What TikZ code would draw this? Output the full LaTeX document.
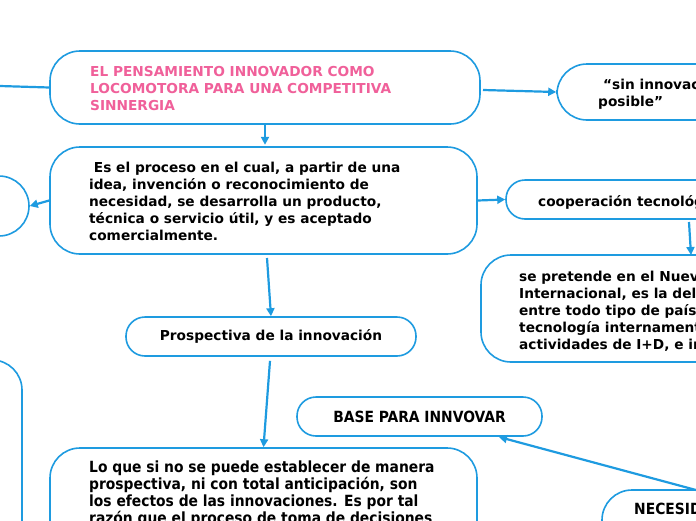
\documentclass[tikz,border=0pt]{standalone}
\usepackage{fontspec}
\setmainfont{DejaVu Sans}
\newfontfamily\condf{DejaVu Sans Condensed}
\usetikzlibrary{arrows.meta}
\definecolor{ln}{HTML}{1E9BE0}
\definecolor{pk}{HTML}{F0609A}
\tikzset{
  box/.style={draw=ln,line width=1.6pt,fill=white,rounded corners=#1,inner sep=0},
  box/.default=30pt,
  txt/.style={anchor=north west,inner sep=0,align=left,font=\fontsize{13.7}{17}\selectfont\bfseries},
  ctxt/.style={txt,font=\fontsize{15.4}{17}\condf\bfseries},
  conn/.style={draw=ln,line width=2.2pt,-{Triangle[length=8pt,width=8pt]}},
  plain/.style={draw=ln,line width=2.2pt}
}
\begin{document}
\begin{tikzpicture}[x=1pt,y=-1pt]
\useasboundingbox (0,0) rectangle (696,520);
\clip (0,0) rectangle (696,520);
% boxes
\node[box] (title) at (265,87.5) [minimum width=430pt,minimum height=73pt] {};
\node[box] (sin) at (657,92) [minimum width=200pt,minimum height=56pt] {};
\node[box] (left1) at (-40,206) [minimum width=138pt,minimum height=60pt] {};
\node[box] (def) at (263.5,200.5) [minimum width=427pt,minimum height=107pt] {};
\node[box=19pt] (coop) at (656,199.5) [minimum width=300pt,minimum height=39pt] {};
\node[box] (pret) at (681,308.5) [minimum width=400pt,minimum height=107pt] {};
\node[box=19pt] (pros) at (271,336.5) [minimum width=290pt,minimum height=39pt] {};
\node[box] (left2) at (-100,500) [minimum width=244pt,minimum height=280pt] {};
\node[box=19pt] (base) at (419.5,416.5) [minimum width=245pt,minimum height=39pt] {};
\node[box] (nec) at (700,530) [minimum width=196pt,minimum height=80pt] {};
\node[box] (lo) at (263.5,520) [minimum width=427pt,minimum height=144pt] {};
\coordinate (lfree) at (0,86);
% texts
\node[txt,text=pk] (t1) at (90,66) {EL PENSAMIENTO INNOVADOR COMO\\LOCOMOTORA PARA UNA COMPETITIVA\\SINNERGIA};
\node[txt] (t2) at (603,78) {“sin innovación no es\\\hspace*{-5pt}posible”};
\node[txt] (t3) at (89,162) {\ Es el proceso en el cual, a partir de una\\idea, invención o reconocimiento de\\necesidad, se desarrolla un producto,\\técnica o servicio útil, y es aceptado\\comercialmente.};
\node[txt] (t4) at (538,195) {cooperación tecnológica};
\node[txt] (t5) at (519,270) {se pretende en el Nuevo Orden Económico\\Internacional, es la del intercambio\\entre todo tipo de países, de la\\tecnología internamente generada por\\actividades de I+D, e innovación};
\node[txt,anchor=center] (t6) at (pros) {Prospectiva de la innovación};
\node[ctxt,anchor=center] (t9) at (base) {BASE PARA INNVOVAR};
\node[ctxt] (t7) at (634,503) {NECESIDAD};
\node[ctxt] (t8) at (89,461) {Lo que si no se puede establecer de manera\\prospectiva, ni con total anticipación, son\\los efectos de las innovaciones. Es por tal\\razón que el proceso de toma de decisiones};
% connectors
\draw[plain] (lfree) -- (title.west);
\draw[conn] (title.south) -- ++(0,20);
\draw[conn] (483,90) -- (sin.west);
\draw[conn] (def.west) -- (left1.east);
\draw[conn] (def.east) -- (coop.west);
\draw[conn] (689,222) -- (691,255);
\draw[conn] (267,258) -- (pros.north);
\draw[conn] (pros.south) ++(-1,4) -- (lo.north);
\draw[conn] (696,490) -- (499,437);
\end{tikzpicture}
\end{document}
